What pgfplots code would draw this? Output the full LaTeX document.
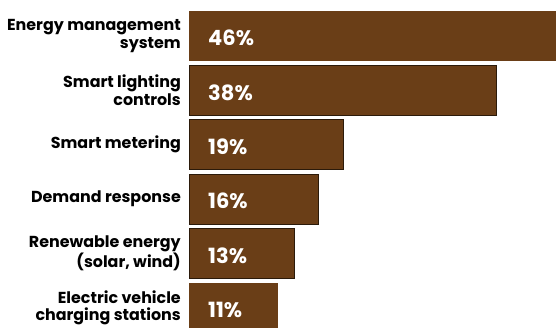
\documentclass[border=0pt]{standalone}
\usepackage{pgfplots}
\pgfplotsset{compat=1.18}
\usepackage{fontspec}
\setmainfont{Poppins}
\definecolor{barbrown}{HTML}{6A3E17}
\definecolor{edgec}{HTML}{2B1A0A}
\begin{document}
\begin{tikzpicture}
\begin{axis}[
 scale only axis, width=367pt, height=327pt,
 xmin=0, xmax=45.3, ymin=-0.662, ymax=5.35, y dir=reverse,
 hide x axis, axis y line*=left, y axis line style={draw=none},
 ytick={0,1,2,3,4,5}, major tick length=0pt,
 /pgf/number format/assume math mode=true,
 yticklabels={{Energy management\\system},{Smart lighting\\controls},{Smart metering},{Demand response},{Renewable energy\\(solar, wind)},{Electric vehicle\\charging stations}},
 yticklabel style={align=right, font=\fontsize{15.9}{17.5}\selectfont\bfseries, inner sep=0pt, xshift=-8pt},
 bar width=0.92, clip=true,
]
\addplot[xbar, bar shift=0pt, fill=barbrown, draw=none] coordinates {(46,0)};
\addplot[xbar, bar shift=0pt, fill=barbrown, draw=edgec, line width=0.8pt] coordinates {(38,1)};
\addplot[xbar, bar shift=0pt, fill=barbrown, draw=edgec, line width=0.8pt] coordinates {(19,2)};
\addplot[xbar, bar shift=0pt, fill=barbrown, draw=edgec, line width=0.8pt] coordinates {(16,3)};
\addplot[xbar, bar shift=0pt, fill=barbrown, draw=edgec, line width=0.8pt] coordinates {(13,4)};
\addplot[xbar, bar shift=0pt, fill=barbrown, draw=none] coordinates {(11,5)};
\addplot[only marks, mark=none, point meta=explicit,
  nodes near coords={\pgfmathprintnumber{\pgfplotspointmeta}\%},
  nodes near coords style={anchor=west, xshift=19pt, yshift=-2pt, inner sep=0pt, text=white, font=\fontsize{21}{21}\selectfont\bfseries}]
  coordinates {(0,0) [46] (0,1) [38] (0,2) [19] (0,3) [16] (0,4) [13] (0,5) [11]};
\end{axis}
\pgfresetboundingbox
\path[use as bounding box] ([xshift=-189pt]current axis.south west) rectangle (current axis.north east);
\end{tikzpicture}
\end{document}
